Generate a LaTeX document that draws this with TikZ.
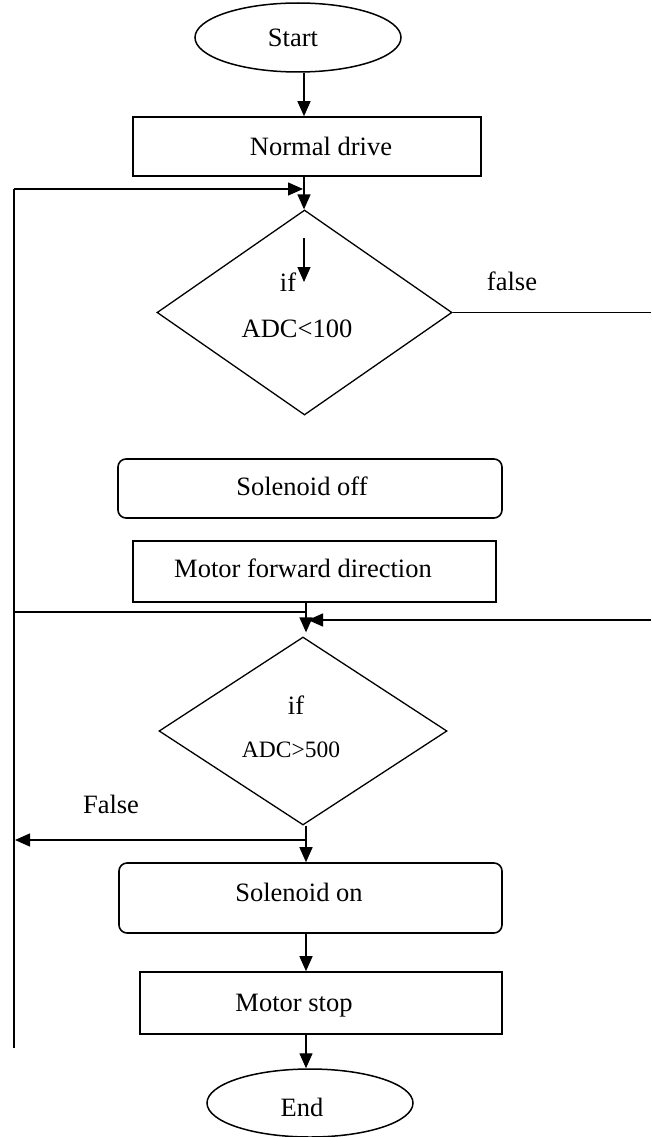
\documentclass[tikz,border=0pt]{standalone}
\usepackage{fontspec}
\setmainfont{Liberation Serif}
\usetikzlibrary{shapes.geometric,arrows.meta}
\tikzset{
  proc/.style={draw, rectangle, line width=1.6pt, inner sep=0pt},
  rproc/.style={draw, rectangle, rounded corners=8pt, line width=1.6pt, inner sep=0pt},
  term/.style={draw, ellipse, line width=1.5pt, inner sep=0pt},
  dec/.style={draw, diamond, line width=1.3pt, inner sep=0pt},
  lbl/.style={inner sep=0pt, anchor=base, font=\fontsize{26.5pt}{30pt}\selectfont},
  lblsm/.style={inner sep=0pt, anchor=base, font=\fontsize{23.5pt}{27pt}\selectfont},
  conn/.style={line width=1.4pt},
  arr/.style={conn, -{Triangle[length=15pt,width=13pt]}}
}
\begin{document}
\begin{tikzpicture}[x=1pt,y=-1pt]
\useasboundingbox (0,0) rectangle (651,1137);
% shapes
\node[term, minimum width=206pt, minimum height=69pt] (start) at (298,37.5) {};
\node[lbl] (tstart) at (293,46.5) {Start};
\node[proc, minimum width=348pt, minimum height=59pt] (normal) at (307,146.5) {};
\node[lbl] (tnormal) at (321,155) {Normal drive};
\node[dec, minimum width=295pt, minimum height=205pt] (d1) at (304.5,312.5) {};
\node[lbl] (tif1) at (288,291) {if};
\node[lbl] (tadc1) at (297,337) {ADC<100};
\node[lbl] (tfalse1) at (512,290) {false};
\node[rproc, minimum width=384pt, minimum height=59pt] (soff) at (310,488.5) {};
\node[lbl] (tsoff) at (302,495) {Solenoid off};
\node[proc, minimum width=363pt, minimum height=61pt] (mfwd) at (314.5,571.5) {};
\node[lbl] (tmfwd) at (303,577) {Motor forward direction};
\node[dec, minimum width=288pt, minimum height=188pt] (d2) at (303,731) {};
\node[lbl] (tif2) at (296,714) {if};
\node[lblsm] (tadc2) at (291,757) {ADC>500};
\node[lbl] (tfalse2) at (111,813) {False};
\node[rproc, minimum width=383pt, minimum height=70pt] (son) at (310.5,898) {};
\node[lbl] (tson) at (299,901) {Solenoid on};
\node[proc, minimum width=362pt, minimum height=62pt] (mstop) at (321,1003) {};
\node[lbl] (tmstop) at (294,1011) {Motor stop};
\node[term, minimum width=206pt, minimum height=68pt] (end) at (310,1103) {};
\node[lbl] (tend) at (302,1116) {End};
% helper coordinates
\coordinate (colA) at (304,0);
\coordinate (colB) at (306,0);
\coordinate (rightedge) at (651,0);
\coordinate (lt) at (14,189);
\coordinate (lb) at (14,1048);
\coordinate (ia) at (304,238);
\coordinate (ib) at (304,282);
\coordinate (jl) at (14,612);
\coordinate (jr) at (651,620);
\coordinate (fl) at (14,840);
% connectors
\draw[arr] (start.south -| colA) -- (normal.north -| colA);
\draw[arr] (normal.south -| colA) -- (d1.north -| colA);
\draw[conn] (lb) -- (lt);
\draw[arr, shorten >=1pt] (lt) -- (lt -| colA);
\draw[arr] (ia) -- (ib);
\draw[conn] (d1.east) -- (d1.east -| rightedge);
\draw[arr, shorten >=4pt] (mfwd.south -| colB) -- (d2.north -| colB);
\draw[conn] (jl) -- (jl -| colB);
\draw[arr, shorten >=2pt] (jr) -- (jr -| colB);
\draw[arr] (d2.south -| colB) -- (son.north -| colB);
\draw[arr, shorten >=1pt] (fl -| colB) -- (fl);
\draw[arr] (son.south -| colB) -- (mstop.north -| colB);
\draw[arr] (mstop.south -| colB) -- (end.north -| colB);
\end{tikzpicture}
\end{document}
